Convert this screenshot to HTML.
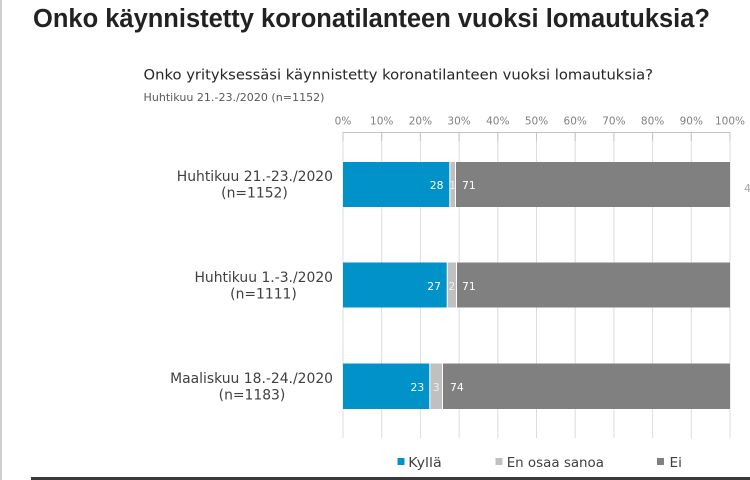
<!DOCTYPE html>
<html><head><meta charset="utf-8"><style>
html,body{margin:0;padding:0;background:#fff;}
svg{display:block;}
</style></head><body>
<svg width="750" height="480" viewBox="0 0 750 480" xmlns="http://www.w3.org/2000/svg">
<rect x="0" y="0" width="750" height="480" fill="#fff"/>
<rect x="0" y="0" width="2" height="480" fill="#cfcfcf"/>
<text x="33" y="27" font-family="Liberation Sans, Arial, sans-serif" font-weight="bold" font-size="25.5" fill="#222" textLength="677" lengthAdjust="spacingAndGlyphs">Onko käynnistetty koronatilanteen vuoksi lomautuksia?</text>
<text x="143.5" y="79.5" font-family="DejaVu Sans, sans-serif" font-size="14.5" fill="#262626" textLength="509.5" lengthAdjust="spacingAndGlyphs">Onko yrityksessäsi käynnistetty koronatilanteen vuoksi lomautuksia?</text>
<text x="143.5" y="101" font-family="DejaVu Sans, sans-serif" font-size="10.5" fill="#595959" textLength="181" lengthAdjust="spacingAndGlyphs">Huhtikuu 21.-23./2020 (n=1152)</text>

<g font-family="DejaVu Sans, sans-serif" font-size="10.5" fill="#808080" text-anchor="middle">
<text x="343" y="124.5">0%</text>
<text x="381.7" y="124.5">10%</text>
<text x="420.4" y="124.5">20%</text>
<text x="459.1" y="124.5">30%</text>
<text x="497.8" y="124.5">40%</text>
<text x="536.5" y="124.5">50%</text>
<text x="575.2" y="124.5">60%</text>
<text x="613.9" y="124.5">70%</text>
<text x="652.6" y="124.5">80%</text>
<text x="691.3" y="124.5">90%</text>
<text x="730" y="124.5">100%</text>
</g>

<g stroke="#dcdcdc" stroke-width="1">
<line x1="343" y1="133" x2="343" y2="438"/>
<line x1="381.7" y1="133" x2="381.7" y2="438"/>
<line x1="420.4" y1="133" x2="420.4" y2="438"/>
<line x1="459.1" y1="133" x2="459.1" y2="438"/>
<line x1="497.8" y1="133" x2="497.8" y2="438"/>
<line x1="536.5" y1="133" x2="536.5" y2="438"/>
<line x1="575.2" y1="133" x2="575.2" y2="438"/>
<line x1="613.9" y1="133" x2="613.9" y2="438"/>
<line x1="652.6" y1="133" x2="652.6" y2="438"/>
<line x1="691.3" y1="133" x2="691.3" y2="438"/>
<line x1="730" y1="133" x2="730" y2="438"/>
</g>
<g stroke="#c4c4c4" stroke-width="1">
<line x1="343" y1="132.5" x2="730" y2="132.5"/>
<line x1="343" y1="132" x2="343" y2="141"/>
<line x1="381.7" y1="132" x2="381.7" y2="141"/>
<line x1="420.4" y1="132" x2="420.4" y2="141"/>
<line x1="459.1" y1="132" x2="459.1" y2="141"/>
<line x1="497.8" y1="132" x2="497.8" y2="141"/>
<line x1="536.5" y1="132" x2="536.5" y2="141"/>
<line x1="575.2" y1="132" x2="575.2" y2="141"/>
<line x1="613.9" y1="132" x2="613.9" y2="141"/>
<line x1="652.6" y1="132" x2="652.6" y2="141"/>
<line x1="691.3" y1="132" x2="691.3" y2="141"/>
<line x1="730" y1="132" x2="730" y2="141"/>
</g>

<!-- Bar 1 -->
<rect x="343" y="162" width="106.3" height="45" fill="#0092c8"/>
<rect x="450.3" y="162" width="4.7" height="45" fill="#c0c0c0"/>
<rect x="456" y="162" width="274" height="45" fill="#808080"/>
<!-- Bar 2 -->
<rect x="343" y="262.5" width="103.7" height="45" fill="#0092c8"/>
<rect x="447.7" y="262.5" width="8.3" height="45" fill="#c0c0c0"/>
<rect x="457" y="262.5" width="273" height="45" fill="#808080"/>
<!-- Bar 3 -->
<rect x="343" y="363.5" width="86.3" height="45.5" fill="#0092c8"/>
<rect x="430.3" y="363.5" width="11.7" height="45.5" fill="#c0c0c0"/>
<rect x="443" y="363.5" width="287" height="45.5" fill="#808080"/>

<g font-family="DejaVu Sans, sans-serif" font-size="10.8" fill="#ffffff">
<text x="443.5" y="189" text-anchor="end">28</text>
<text x="452.7" y="189" text-anchor="middle" fill="#eeeeee">1</text>
<text x="462" y="189">71</text>
<text x="441" y="290" text-anchor="end">27</text>
<text x="451.8" y="290" text-anchor="middle" fill="#eeeeee">2</text>
<text x="462" y="290">71</text>
<text x="424.3" y="391" text-anchor="end">23</text>
<text x="436.2" y="391" text-anchor="middle" fill="#eeeeee">3</text>
<text x="450" y="391">74</text>
</g>

<g font-family="DejaVu Sans, sans-serif" font-size="13.9" fill="#404040">
<text x="333" y="181" text-anchor="end">Huhtikuu 21.-23./2020</text>
<text x="254.5" y="197.5" text-anchor="middle">(n=1152)</text>
<text x="333" y="282" text-anchor="end">Huhtikuu 1.-3./2020</text>
<text x="263.5" y="298.5" text-anchor="middle">(n=1111)</text>
<text x="333" y="383" text-anchor="end">Maaliskuu 18.-24./2020</text>
<text x="252" y="399.5" text-anchor="middle">(n=1183)</text>
</g>

<text x="744" y="192" font-family="DejaVu Sans, sans-serif" font-size="11" fill="#a6a6a6">4</text>

<!-- Legend -->
<rect x="397.5" y="458" width="7" height="7" fill="#0092c8"/>
<text x="408.3" y="467" font-family="DejaVu Sans, sans-serif" font-size="13.7" fill="#404040" textLength="33.4" lengthAdjust="spacingAndGlyphs">Kyllä</text>
<rect x="495.5" y="458" width="7" height="7" fill="#c0c0c0"/>
<text x="506.7" y="467" font-family="DejaVu Sans, sans-serif" font-size="13.5" fill="#404040" textLength="97.3" lengthAdjust="spacingAndGlyphs">En osaa sanoa</text>
<rect x="657" y="458" width="7" height="7" fill="#808080"/>
<text x="669.5" y="467" font-family="DejaVu Sans, sans-serif" font-size="13.7" fill="#404040">Ei</text>

<rect x="31" y="477" width="719" height="3" fill="#3a3a3a"/>
</svg>
</body></html>
